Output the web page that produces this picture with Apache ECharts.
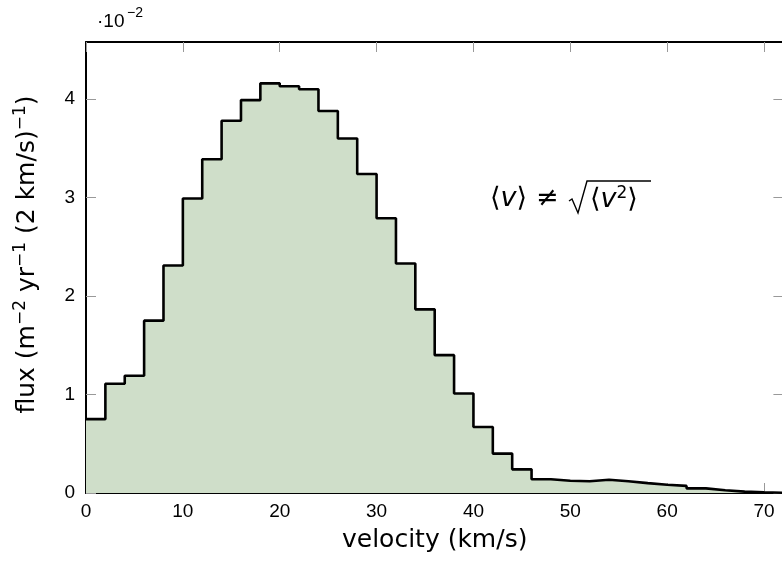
<!DOCTYPE html>
<html>
<head>
<meta charset="utf-8">
<script src="https://cdn.jsdelivr.net/npm/echarts@6/dist/echarts.min.js"></script>
<style>
html,body{margin:0;padding:0;background:#fff;}
#c{width:782px;height:569px;}
</style>
</head>
<body>
<div id="c"></div>
<script>
// bin left edges (km/s), bin width 2 km/s
var binStart = [0,2,4,6,8,10,12,14,16,18,20,22,24,26,28,30,32,34,36,38,40,42,44,46,48,50,52,54,56,58,60,62,64,66,68,70];
var binEndLast = 72;
// flux per bin, in units of 1e-2
var flux = [0.75,1.11,1.19,1.75,2.31,2.99,3.39,3.78,3.99,4.16,4.13,4.10,3.88,3.60,3.24,2.79,2.33,1.865,1.40,1.01,0.67,0.40,0.24,0.14,0.125,0.12,0.135,0.12,0.10,0.083,0.072,0.047,0.028,0.014,0.007,0.003];
var xTicks = [0,10,20,30,40,50,60,70];
var yTicks = [0,1,2,3,4];

var pts = binStart.map(function(x,i){return [x, flux[i]];});
pts.push([binEndLast, flux[flux.length-1]]);

var chart = echarts.init(document.getElementById('c'), null, {renderer:'canvas'});
var tickFont = {fontFamily:'Liberation Sans', fontSize:19, color:'#000'};
var nameFont = {fontFamily:'DejaVu Sans', fontSize:25, color:'#000'};
var lineAx = {show:true, onZero:false, lineStyle:{color:'#000', width:2}};
function tickX(){ return {show:true, inside:true, length:10, customValues:xTicks, lineStyle:{color:'#999', width:1}}; }
function tickY(){ return {show:true, inside:true, length:10, customValues:yTicks, lineStyle:{color:'#999', width:1}}; }

var mathRich = {
  a:{fontFamily:'DejaVu Sans', fontSize:27, fill:'#000', lineHeight:30},
  v:{fontFamily:'DejaVu Sans', fontSize:27, fontStyle:'italic', fill:'#000', lineHeight:30},
  s:{fontFamily:'DejaVu Sans', fontSize:17, fill:'#000', verticalAlign:'top', lineHeight:18}
};

chart.setOption({
  animation:false,
  grid:{left:86, top:42, width:697.4, height:451, containLabel:false, outerBoundsMode:'none'},
  xAxis:[{
    type:'value', min:0, max:72, interval:10, position:'bottom',
    axisLine:lineAx, axisTick:tickX(), splitLine:{show:false},
    axisLabel:Object.assign({margin:9, customValues:xTicks}, tickFont),
    name:'velocity (km/s)', nameLocation:'middle', nameGap:35, nameTextStyle:nameFont
  },{
    type:'value', min:0, max:72, interval:10, position:'top',
    axisLine:lineAx, axisTick:tickX(), splitLine:{show:false}, axisLabel:{show:false}
  }],
  yAxis:[{
    type:'value', min:0, max:4.58, interval:1, position:'left',
    axisLine:lineAx, axisTick:tickY(), splitLine:{show:false},
    axisLabel:Object.assign({margin:11, customValues:yTicks}, tickFont),
    name:'{n|flux (m}{s|\u22122}{n| yr}{s|\u22121}{n| (2 km/s)}{s|\u22121}{n|)}',
    nameLocation:'middle', nameGap:44,
    nameTextStyle:{padding:[0,0,0,26], rich:{
      n:{fontFamily:'DejaVu Sans', fontSize:25, color:'#000', lineHeight:30},
      s:{fontFamily:'DejaVu Sans', fontSize:17, color:'#000', lineHeight:17, verticalAlign:'top'}
    }}
  },{
    type:'value', min:0, max:4.58, interval:1, position:'right',
    axisLine:{show:false, onZero:false}, axisTick:tickY(), splitLine:{show:false}, axisLabel:{show:false}
  }],
  series:[{
    type:'line', step:'end', data:pts, symbol:'none',
    lineStyle:{color:'#000', width:2.6},
    areaStyle:{color:'#cfdec9', opacity:1},
    z:1
  }],
  graphic:[
    {type:'text', left:97, top:12, style:{text:'\u00B710', fontFamily:'Liberation Sans', fontSize:19, fill:'#000'}},
    {type:'text', left:127, top:6, style:{text:'\u22122', fontFamily:'Liberation Sans', fontSize:14, fill:'#000'}},
    {type:'text', left:490, top:185, style:{text:'{a|\u27E8}{v|v}{a|\u27E9}', rich:mathRich}},
    {type:'text', left:536, top:185, style:{text:'{a|\u2260}', rich:mathRich}},
    {type:'text', left:590, top:185, style:{text:'{a|\u27E8}{v|v}{s|2}{a|\u27E9}', rich:mathRich}},
    {type:'polyline', shape:{points:[[569,201],[572,199],[578,213],[587,181],[651,181]]},
      style:{stroke:'#000', lineWidth:1.4, fill:null, lineJoin:'miter'}}
  ]
});
</script>
</body>
</html>
